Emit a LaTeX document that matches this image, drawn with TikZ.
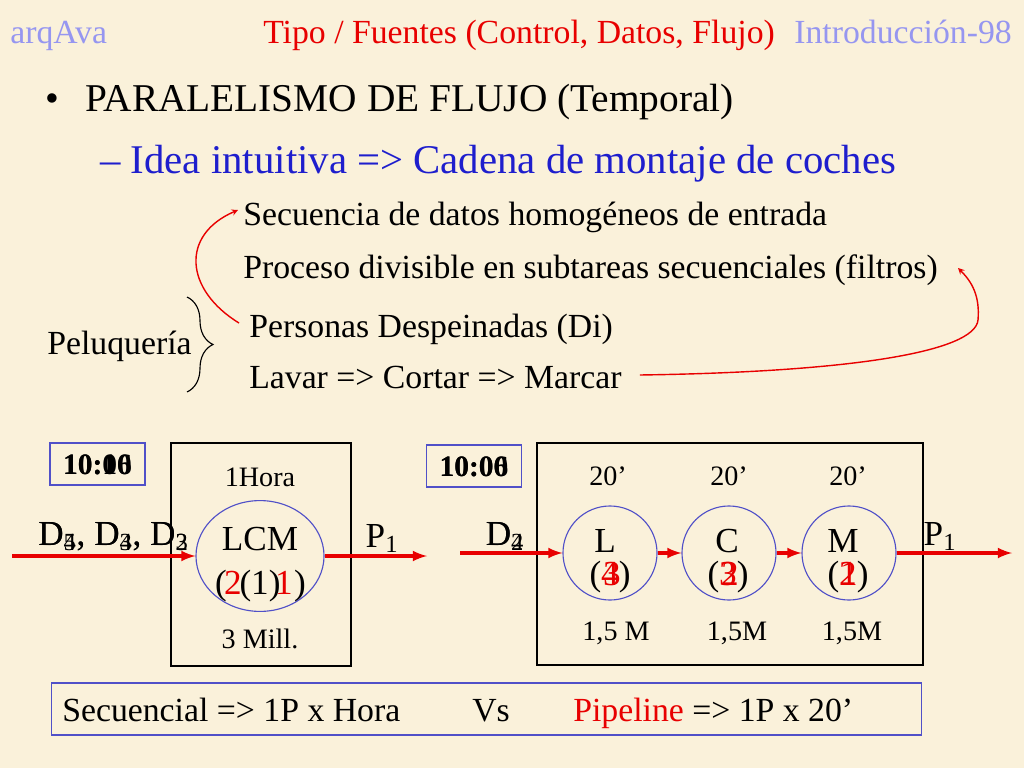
\documentclass[tikz,border=0pt]{standalone}
\usepackage{fontspec}
\setmainfont{Liberation Serif}
\usepackage{tikz}
\usetikzlibrary{calc, positioning, shapes.geometric, arrows, decorations.pathreplacing}
\definecolor{fondo}{RGB}{250,241,218}
\definecolor{rojo}{RGB}{232,0,0}
\definecolor{azul}{RGB}{30,30,205}
\definecolor{lila}{RGB}{150,150,240}
\definecolor{borde}{RGB}{80,80,200}
\tikzstyle{txt} = [inner sep=0pt, text height=15.5pt, text depth=0pt, font=\fontsize{24}{28}\selectfont]
\tikzstyle{titulo} = [inner sep=0pt, text height=16pt, text depth=0pt, font=\fontsize{28}{32}\selectfont]
\tikzstyle{lbl} = [inner sep=0pt, text height=14.4pt, text depth=0pt, font=\fontsize{20}{24}\selectfont]
\tikzstyle{big} = [inner sep=0pt, text height=14.4pt, text depth=0pt, font=\fontsize{25}{30}\selectfont]
\tikzstyle{etapa} = [circle, draw=borde, line width=0.8pt, minimum size=2.35cm, inner sep=0pt]
\tikzstyle{reloj} = [draw=borde, line width=1.2pt, minimum width=2.37cm, minimum height=1.05cm, inner sep=0pt]
\tikzstyle{hora} = [inner sep=0pt, text height=15pt, text depth=0pt, font=\fontsize{21}{24}\selectfont\bfseries]
\tikzstyle{arrow} = [rojo, line width=2.4pt, ->, >=latex]
\tikzstyle{curva} = [rojo, line width=1pt, ->, >=stealth]

\begin{document}
\begin{tikzpicture}[x=0.025cm, y=-0.025cm]
\fill[fondo] (0,0) rectangle (1024,768);
\useasboundingbox (0,0) rectangle (1024,768);

\node[txt, lila, anchor=west] (cab1) at (10,33) {arqAva};
\node[txt, rojo, anchor=west] (cab2) at (263,33) {Tipo / Fuentes (Control, Datos, Flujo)};
\node[txt, lila, anchor=east] (cab3) at (1012,33) {Introducción-98};

\node[titulo, anchor=west] (pto) at (45,100) {•};
\node[titulo, anchor=west] (tit) at (85,100) {PARALELISMO DE FLUJO (Temporal)};
\node[titulo, azul, anchor=west, font=\fontsize{29}{32}\selectfont] (idea) at (100,162) {– Idea intuitiva => Cadena de montaje de coches};

\node[txt, anchor=west] (sec) at (243,215) {Secuencia de datos homogéneos de entrada};
\node[txt, anchor=west] (proc) at (243,268) {Proceso divisible en subtareas secuenciales (filtros)};
\node[txt, anchor=west] (pers) at (249,327) {Personas Despeinadas (Di)};
\node[txt, anchor=west] (lav) at (249,378) {Lavar => Cortar => Marcar};
\node[txt, anchor=west] (pel) at (47,344) {Peluquería};
\draw[decorate, decoration={brace, amplitude=0.65cm}, line width=0.8pt] (187,297) -- (187,392);

\draw[curva] ([shift={(-10,-4)}]pers.west) .. controls (185,290) and (180,235) .. ([shift={(-5,-5)}]sec.west);
\draw[curva] ([shift={(18,-3)}]lav.east) .. controls (850,372) and (975,352) .. (978,320) .. controls (980,296) and (972,282) .. ([shift={(20,0)}]proc.east);

% secuencial
\node[reloj] (r1) at (97.5,464) {};
\node[hora] at (r1) {10:00};
\node[hora] at (r1) {10:16};
\draw[line width=0.8pt] (171,443) rectangle (351,666);
\node[ellipse, draw=borde, line width=0.8pt, minimum width=3.2cm, minimum height=2.77cm] (lcm) at (260,556) {};
\node[lbl] (h1) at (260,476) {1Hora};
\node[big] (n1) at (260,540) {LCM};
\node[big] at (260,584) {(1)};
\node[big] at (221,584) {(};
\node[big] at (300,584) {)};
\node[big, rojo] at (233,584) {2};
\node[big, rojo] at (284,584) {1};
\node[lbl] (m1) at (260,638) {3 Mill.};
\coordinate (e1) at (12,556);
\coordinate (s1) at (427,556);
\draw[arrow] (e1) -- (lcm);
\draw[arrow] (lcm) -- (s1);
\node[big, anchor=west] (d1) at (38,535) {D\textsubscript{5}, D\textsubscript{4}, D\textsubscript{3}};
\node[big, anchor=west] at (38,535) {D\textsubscript{4}, D\textsubscript{3}, D\textsubscript{2}};
\node[big] (p1) at (382,537) {P\textsubscript{1}};

% pipeline
\node[reloj] (r2) at (474,466) {};
\node[hora] at (r2) {10:00};
\node[hora] at (r2) {10:06};
\draw[line width=0.8pt] (537,443) rectangle (923,665);
\node[etapa] (L) at (610,553) {};
\node[etapa] (C) at (729,553) {};
\node[etapa] (M) at (849,553) {};
\node[lbl] at (608,475) {20’};
\node[lbl] at (729,475) {20’};
\node[lbl] at (848,475) {20’};
\node[big] at (605,542) {L};
\node[big] at (727,542) {C};
\node[big] at (843,542) {M};
\node[big] at (610,575) {(\phantom{4})};
\node[big] at (728,575) {(\phantom{3})};
\node[big] at (848,575) {(\phantom{2})};
\node[big, rojo] at (610,575) {\phantom{(}4\phantom{)}};
\node[big, rojo] at (612,575) {\phantom{(}3\phantom{)}};
\node[big, rojo] at (728,575) {\phantom{(}3\phantom{)}};
\node[big, rojo] at (730,575) {\phantom{(}2\phantom{)}};
\node[big, rojo] at (848,575) {\phantom{(}2\phantom{)}};
\node[big, rojo] at (849,575) {\phantom{(}1\phantom{)}};
\node[lbl] at (616,630) {1,5 M};
\node[lbl] at (737,630) {1,5M};
\node[lbl] at (852,630) {1,5M};
\coordinate (e2) at (460,553);
\coordinate (s2) at (1012,553);
\draw[arrow] (e2) -- (L);
\draw[arrow] (L) -- (C);
\draw[arrow] (C) -- (M);
\draw[arrow] (M) -- (s2);
\node[big] (d2) at (505,535) {D\textsubscript{2}};
\node[big] at (505,535) {D\textsubscript{4}};
\node[big] (p2) at (940,535) {P\textsubscript{1}};

\node[draw=borde, line width=1pt, minimum width=21.73cm, minimum height=1.3cm] (res) at (486.5,709) {};
\node[txt, anchor=west] (sq) at (62,711) {Secuencial => 1P x Hora};
\node[txt, anchor=west] (vs) at (472,711) {Vs};
\node[txt, anchor=west] (pp) at (573,711) {\textcolor{rojo}{Pipeline} => 1P x 20’};
\end{tikzpicture}
\end{document}
